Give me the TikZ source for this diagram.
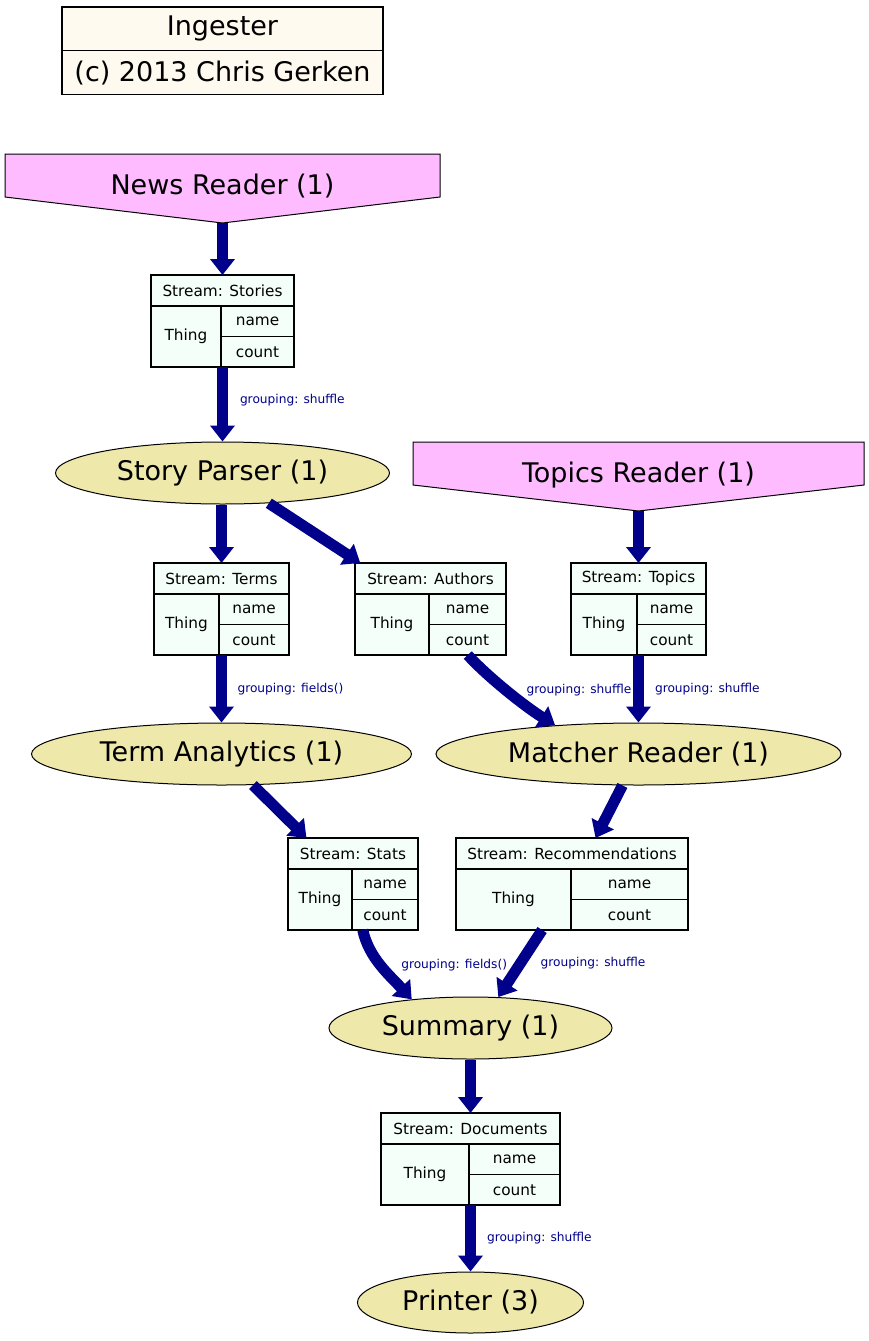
\documentclass[tikz,border=0pt]{standalone}
\usepackage{fontspec}
\setmainfont{DejaVu Sans}
\usepackage{tikz}
\usetikzlibrary{arrows.meta,positioning,shapes.geometric,backgrounds}
\usepackage{xcolor}
\definecolor{flowblue}{RGB}{0,0,139}
\definecolor{readerpink}{RGB}{255,187,255}
\definecolor{taskkhaki}{RGB}{238,232,170}
\definecolor{streammint}{RGB}{245,255,250}
\definecolor{titlecream}{RGB}{255,250,240}

\begin{document}
\begin{tikzpicture}[x=1pt, y=-1pt,
    every node/.style={font=\fontsize{27}{32}\selectfont},
    titlecell/.style={draw, fill=titlecream, line width=1.3pt, minimum width=321pt,
      minimum height=43.7pt, inner sep=0pt, outer sep=0pt},
    reader/.style={minimum height=69pt, inner sep=0pt, outer sep=0pt, text depth=8.6pt},
    readershape/.style={draw, fill=readerpink, line width=1pt},
    task/.style={ellipse, draw, fill=taskkhaki, line width=1pt, minimum height=62pt, inner sep=0pt},
    streambox/.style={draw, fill=streammint, line width=1.4pt, minimum height=92pt,
      inner sep=0pt, outer sep=0pt},
    cell/.style={draw, line width=1.4pt, inner sep=0pt, outer sep=0pt,
      font=\fontsize{15.3}{18}\selectfont},
    flow/.style={line width=11pt, flowblue, -{Triangle[length=16pt,width=24pt]}},
    lbl/.style={font=\fontsize{12.2}{14}\selectfont, text=flowblue, inner sep=0pt}]
    \useasboundingbox (0,0) rectangle (869,1341);

    % ── Title ────────────────────────────────────────────────────────────────
    \node[titlecell] (title) at (222.5,28.85) {Ingester};
    \node[titlecell, below=0pt of title] (credit) {(c) 2013 Chris Gerken};

    % ── Readers and tasks ────────────────────────────────────────────────────
    \node[reader, minimum width=435pt] (news) at (222.5,188.5) {News Reader (1)};
    \node[reader, minimum width=451pt] (topicsrd) at (638.5,476.5) {Topics Reader (1)};
    \begin{scope}[on background layer]
      \foreach \rd in {news,topicsrd} {
        \draw[readershape] (\rd.north west) -- (\rd.north east) -- ([yshift=-43pt]\rd.north east)
          -- (\rd.south) -- ([yshift=-43pt]\rd.north west) -- cycle;
      }
    \end{scope}

    \node[task, minimum width=334pt] (parser) at (222.5,473) {Story Parser (1)};
    \node[task, minimum width=380pt] (terman) at (221.5,754) {Term Analytics (1)};
    \node[task, minimum width=405pt] (matcher) at (638.5,754) {Matcher Reader (1)};
    \node[task, minimum width=283pt] (summary) at (470.5,1028) {Summary (1)};
    \node[task, minimum width=226pt, minimum height=61pt] (printer) at (470.5,1302.5) {Printer (3)};

    % ── Streams ──────────────────────────────────────────────────────────────
    \foreach \nm/\xl/\xm/\xr/\yt/\ttl in {stories/151/221/294/275/Stories,
        terms/154/219/289/563/Terms, authors/355/429/506/563/Authors,
        topics/571/637/706/563/Topics, stats/288/352/418/838/Stats,
        recs/456/571/688/838/Recommendations, docs/381/469/560/1113/Documents} {
      \node[streambox, minimum width={\xr-\xl}] (\nm) at ({(\xl+\xr)/2},{\yt+46}) {};
      \node[cell, anchor=north, minimum width={\xr-\xl}, minimum height=31pt] (\nm-h) at (\nm.north) {Stream: \ttl};
      \node[cell, anchor=north west, minimum width={\xm-\xl}, minimum height=61pt] (\nm-t) at (\nm-h.south west) {Thing};
      \node[cell, anchor=north west, minimum width={\xr-\xm}, minimum height=30.5pt] (\nm-n) at (\nm-t.north east) {name};
      \node[cell, anchor=north west, minimum width={\xr-\xm}, minimum height=30.5pt] (\nm-c) at (\nm-n.south west) {count};
    }

    % ── Flows ────────────────────────────────────────────────────────────────
    \draw[flow] (news.south) -- (stories.north);
    \draw[flow] (stories) -- node[lbl, pos=0.45, right=12pt] (g-stories) {grouping: shuffle} (parser);
    \draw[flow] (parser.south -| terms.north) -- (terms.north);
    \draw[flow] (parser) -- (authors);
    \draw[flow] (topicsrd.south) -- (topics.north);
    \draw[flow] (terms) -- node[lbl, right=10.5pt] (g-terms) {grouping: fields()} (terman);
    \draw[flow] (authors.-51) .. controls +(18,20) and +(-32,-20) .. (matcher.161)
      node[lbl, midway, right=15pt] (g-authors) {grouping: shuffle};
    \draw[flow] (topics) -- node[lbl, right=11pt] (g-topics) {grouping: shuffle} (matcher);
    \draw[flow] (terman) -- (stats);
    \draw[flow] (matcher) -- (recs);
    \draw[flow] (stats.-78) .. controls +(6,28) and +(-22,-24) .. (summary.154)
      node[lbl, midway, right=14.5pt, yshift=1.5pt] (g-stats) {grouping: fields()};
    \draw[flow] (recs.-123) -- node[lbl, right=15pt] (g-recs) {grouping: shuffle} (summary.48);
    \draw[flow] (summary) -- (docs);
    \draw[flow] (docs) -- node[lbl, right=11pt] (g-docs) {grouping: shuffle} (printer);
  \end{tikzpicture}
\end{document}
